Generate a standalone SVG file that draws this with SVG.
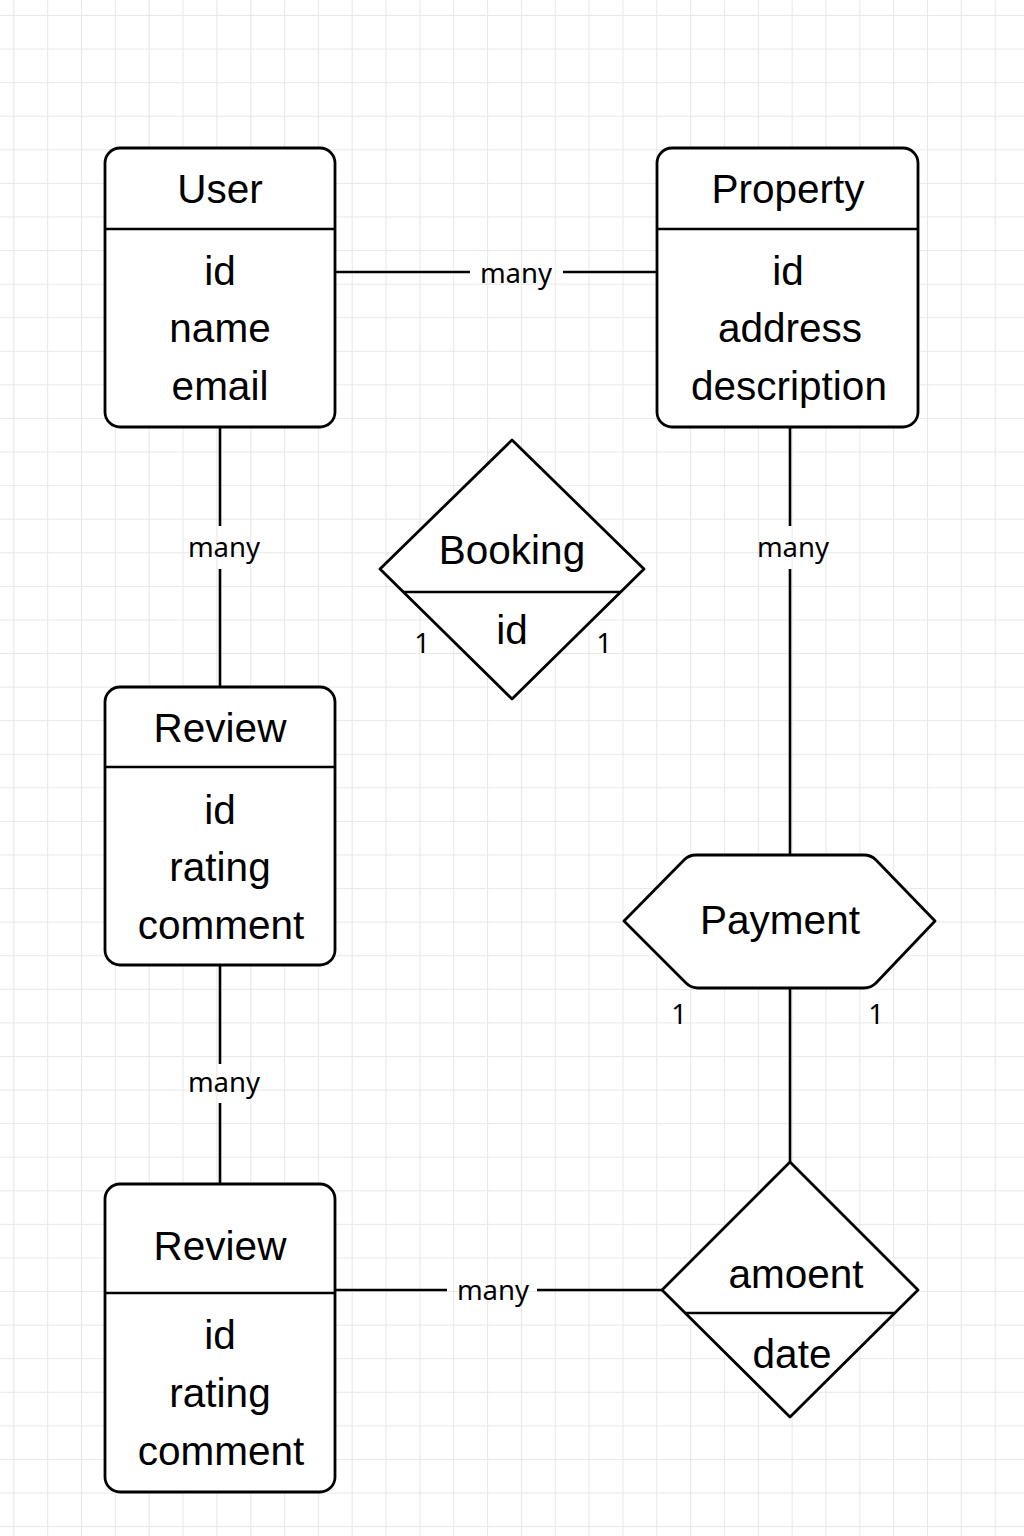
<svg xmlns="http://www.w3.org/2000/svg" width="1024" height="1536" viewBox="0 0 1024 1536">
  <defs>
    <pattern id="grid" x="13.3" y="15" width="33.84" height="33.58" patternUnits="userSpaceOnUse">
      <path d="M0 0.5 H33.84 M0.5 0 V33.58" fill="none" stroke="#e8e8e8" stroke-width="1.2"/>
    </pattern>
  </defs>
  <style>
    .shape { fill: #ffffff; stroke: #000000; stroke-width: 2.8; stroke-linejoin: round; }
    .sep { stroke: #000000; stroke-width: 2.6; fill: none; }
    .conn { stroke: #000000; stroke-width: 2.6; fill: none; }
    .t { font-family: "Liberation Sans", Arial, sans-serif; font-size: 40.5px; fill: #000000; text-anchor: middle; }
    .lbl { font-family: "Noto Sans", "DejaVu Sans", sans-serif; font-size: 27.5px; fill: #000000; text-anchor: middle; }
  </style>
  <rect x="0" y="0" width="1024" height="1536" fill="#ffffff"/>
  <rect x="0" y="0" width="1024" height="1536" fill="url(#grid)"/>

  <g id="connectors">
    <path class="conn" d="M335 272 H470 M563 272 H657"/>
    <path class="conn" d="M220 427 V526 M220 569 V687"/>
    <path class="conn" d="M220 965 V1064 M220 1103 V1184"/>
    <path class="conn" d="M335 1290 H447 M537 1290 H663"/>
    <path class="conn" d="M790 427 V526 M790 569 V855"/>
    <path class="conn" d="M790 988 V1162"/>
    <text class="lbl" x="516" y="283">many</text>
    <text class="lbl" x="224" y="557">many</text>
    <text class="lbl" x="793" y="557">many</text>
    <text class="lbl" x="224" y="1092">many</text>
    <text class="lbl" x="493" y="1300">many</text>
    <text class="lbl" x="422" y="653">1</text>
    <text class="lbl" x="604" y="653">1</text>
    <text class="lbl" x="679" y="1024">1</text>
    <text class="lbl" x="876" y="1024">1</text>
  </g>

  <g id="user">
    <rect class="shape" x="105" y="148" width="230" height="279" rx="15"/>
    <line class="sep" x1="105" y1="229" x2="335" y2="229"/>
    <text class="t" x="220" y="203">User</text>
    <text class="t" x="220" y="285">id</text>
    <text class="t" x="220" y="342">name</text>
    <text class="t" x="220" y="400">email</text>
  </g>

  <g id="property">
    <rect class="shape" x="657" y="148" width="261" height="279" rx="15"/>
    <line class="sep" x1="657" y1="229" x2="918" y2="229"/>
    <text class="t" x="788" y="203">Property</text>
    <text class="t" x="788" y="285">id</text>
    <text class="t" x="790" y="342">address</text>
    <text class="t" x="789" y="400">description</text>
  </g>

  <g id="booking">
    <polygon class="shape" points="380,569 512,440 644,569 512,699"/>
    <line class="sep" x1="403" y1="592" x2="621" y2="592"/>
    <text class="t" x="512" y="564">Booking</text>
    <text class="t" x="512" y="644">id</text>
  </g>

  <g id="review1">
    <rect class="shape" x="105" y="687" width="230" height="278" rx="15"/>
    <line class="sep" x1="105" y1="767" x2="335" y2="767"/>
    <text class="t" x="220" y="742">Review</text>
    <text class="t" x="220" y="824">id</text>
    <text class="t" x="220" y="881">rating</text>
    <text class="t" x="221" y="939">comment</text>
  </g>

  <g id="payment">
    <path class="shape" d="M624 921 L684 860 Q689 855 696 855 L864 855 Q871 855 876 860 L935 921 L876 983 Q871 988 864 988 L698 988 Q691 988 686 983 Z"/>
    <text class="t" x="780" y="934">Payment</text>
  </g>

  <g id="review2">
    <rect class="shape" x="105" y="1184" width="230" height="308" rx="15"/>
    <line class="sep" x1="105" y1="1293" x2="335" y2="1293"/>
    <text class="t" x="220" y="1260">Review</text>
    <text class="t" x="220" y="1349">id</text>
    <text class="t" x="220" y="1407">rating</text>
    <text class="t" x="221" y="1465">comment</text>
  </g>

  <g id="payment-attrs">
    <polygon class="shape" points="662,1290 790,1162 918,1290 790,1417"/>
    <line class="sep" x1="686" y1="1313" x2="894" y2="1313"/>
    <text class="t" x="796" y="1288">amoent</text>
    <text class="t" x="792" y="1368">date</text>
  </g>
</svg>
